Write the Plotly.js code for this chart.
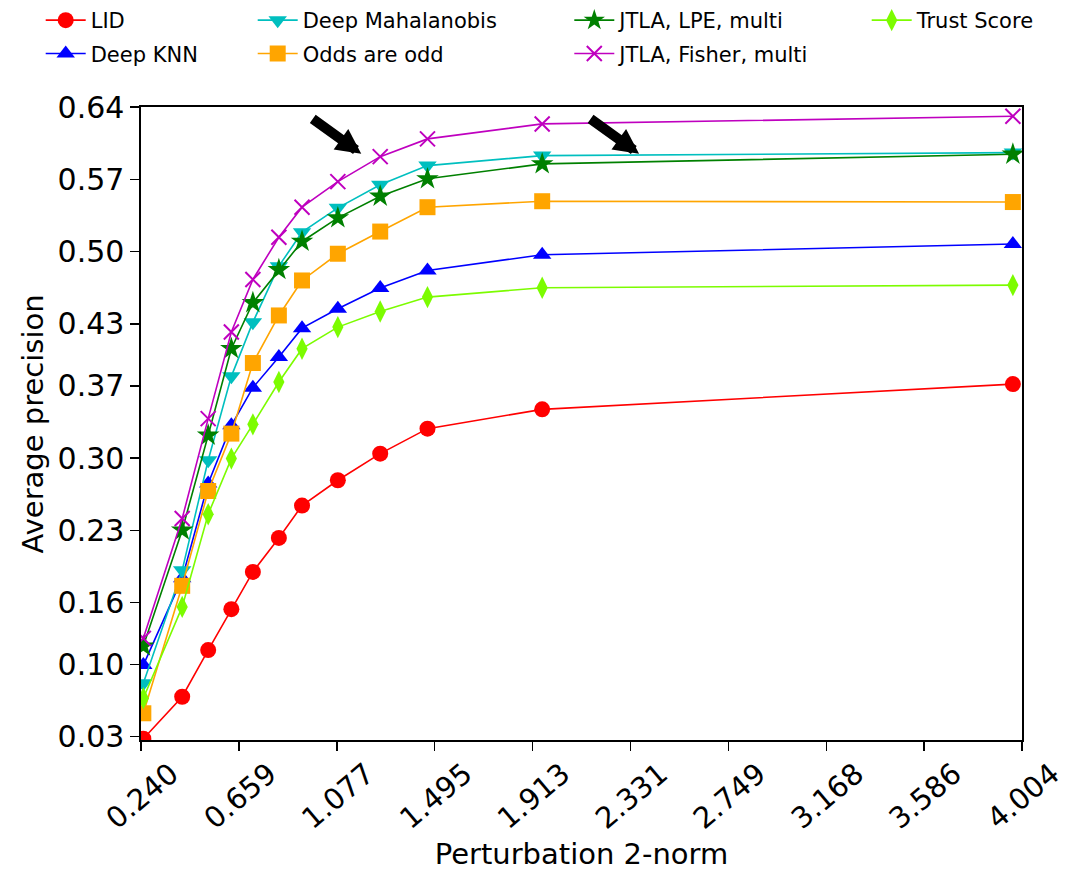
<!DOCTYPE html>
<html>
<head>
<meta charset="utf-8">
<script src="https://cdn.plot.ly/plotly-3.0.1.min.js"></script>
<style>html,body{margin:0;padding:0;background:#fff;}#chart{width:1068px;height:871px;}</style>
</head>
<body>
<div id="chart"></div>
<script>
// ---- data ----
const norms = [0.250, 0.416, 0.527, 0.626, 0.718, 0.829, 0.928, 1.081, 1.262, 1.464, 1.954, 3.965];
const lid      = [0.028, 0.0687, 0.1139, 0.1536, 0.1897, 0.2226, 0.2540, 0.2785, 0.3043, 0.3285, 0.3472, 0.3717];
const deepKnn  = [0.0994, 0.1836, 0.2753, 0.3317, 0.3682, 0.3979, 0.4259, 0.4447, 0.4647, 0.4818, 0.4970, 0.5074];
const deepMaha = [0.0817, 0.1914, 0.2979, 0.3792, 0.4317, 0.4860, 0.5189, 0.5425, 0.5648, 0.5834, 0.5931, 0.5960];
const oddsOdd  = [0.0527, 0.1762, 0.2681, 0.3237, 0.3921, 0.4382, 0.4721, 0.4980, 0.5195, 0.5431, 0.5489, 0.5481];
const jtlaLpe  = [0.1178, 0.2301, 0.3221, 0.4060, 0.4505, 0.4825, 0.5099, 0.5328, 0.5537, 0.5706, 0.5851, 0.5944];
const jtlaFish = [0.1253, 0.2414, 0.3382, 0.4221, 0.4731, 0.5140, 0.5431, 0.5679, 0.5921, 0.6093, 0.6238, 0.6312];
const trust    = [0.0672, 0.1558, 0.2456, 0.2995, 0.3327, 0.3737, 0.4060, 0.4269, 0.4421, 0.4560, 0.4650, 0.4676];

const xTickVals = [0.240, 0.659, 1.077, 1.495, 1.913, 2.331, 2.749, 3.168, 3.586, 4.004];
const xTickText = ['0.240', '0.659', '1.077', '1.495', '1.913', '2.331', '2.749', '3.168', '3.586', '4.004'];
const yTickVals = [0.03, 0.10, 0.16, 0.23, 0.30, 0.37, 0.43, 0.50, 0.57, 0.64];
const yTickText = ['0.03', '0.10', '0.16', '0.23', '0.30', '0.37', '0.43', '0.50', '0.57', '0.64'];

const xTitle = 'Perturbation 2-norm';
const yTitle = 'Average precision';

// arrow tips (data coords)
const arrowX = [1.181, 2.368];
const arrowY = [0.5948, 0.5948];

const FONT = 'DejaVu Sans, Liberation Sans, sans-serif';

function tr(name, y, color, symbol, size, legendId, extra) {
  return {
    type: 'scatter', mode: 'lines+markers', name: name,
    x: norms, y: y,
    line: {color: color, width: 1.6},
    marker: Object.assign({color: color, symbol: symbol, size: size}, extra || {}),
    legend: legendId
  };
}

const data = [
  tr('LID', lid, '#ff0000', 'circle', 16, 'legend'),
  tr('Deep KNN', deepKnn, '#0000ff', 'triangle-up', 16, 'legend2'),
  tr('Deep Mahalanobis', deepMaha, '#00bfbf', 'triangle-down', 16, 'legend3'),
  tr('Odds are odd', oddsOdd, '#ffa500', 'square', 16, 'legend4'),
  tr('JTLA, LPE, multi', jtlaLpe, '#008000', 'star', 17, 'legend5'),
  tr('JTLA, Fisher, multi', jtlaFish, '#bf00bf', 'x-thin-open', 15, 'legend6', {line: {color: '#bf00bf', width: 2}}),
  tr('Trust Score', trust, '#7cfc00', 'diamond-tall', 16, 'legend7')
];

const W = 1068, H = 871;
const IW = 40;
function leg(textX, centerY) {
  return {
    xref: 'container', yref: 'container',
    x: (textX - (IW + 10)) / W, y: 1 - (centerY - 20) / H,
    xanchor: 'left', yanchor: 'top',
    bgcolor: 'rgba(0,0,0,0)', borderwidth: 0,
    itemwidth: IW,
    font: {family: FONT, size: 21, color: '#000'}
  };
}

const annotations = arrowX.map((x, i) => ({
  x: x, y: arrowY[i], xref: 'x', yref: 'y',
  ax: -50, ay: -36, axref: 'pixel', ayref: 'pixel',
  showarrow: true, arrowhead: 2, arrowsize: 0.5, arrowwidth: 10,
  arrowcolor: '#000', text: '', standoff: 0
}));
// y-axis title
annotations.push({
  text: yTitle, xref: 'paper', yref: 'paper', x: -0.1226, y: 0.5,
  xanchor: 'center', yanchor: 'middle', textangle: -90, showarrow: false,
  font: {family: FONT, size: 29, color: '#000'}
});

const layout = {
  width: W, height: H,
  margin: {l: 141, r: 46, t: 107, b: 131, autoexpand: false},
  paper_bgcolor: '#fff', plot_bgcolor: '#fff',
  font: {family: FONT, color: '#000'},
  legend: leg(90.7, 20),
  legend2: leg(90.7, 53.3),
  legend3: leg(302.7, 20),
  legend4: leg(302.7, 53.3),
  legend5: leg(619.3, 20),
  legend6: leg(619.3, 53.3),
  legend7: leg(916.7, 20),
  xaxis: {
    range: [0.240, 4.004], automargin: false,
    tickmode: 'array', tickvals: xTickVals, ticktext: xTickText,
    tickangle: -40,
    ticks: 'outside', ticklen: 9, tickwidth: 1.5, tickcolor: '#000',
    ticklabelshift: 30, ticklabelstandoff: -5,
    tickfont: {family: FONT, size: 29, color: '#000'},
    showline: true, linecolor: '#000', linewidth: 1.6, mirror: true,
    showgrid: false, zeroline: false,
    title: {text: xTitle, font: {family: FONT, size: 29, color: '#000'}}
  },
  yaxis: {
    range: [0.0268, 0.6402], automargin: false,
    tickmode: 'array', tickvals: yTickVals, ticktext: yTickText,
    ticks: 'outside', ticklen: 9, tickwidth: 1.5, tickcolor: '#000',
    tickfont: {family: FONT, size: 30, color: '#000'},
    showline: true, linecolor: '#000', linewidth: 1.6, mirror: true,
    showgrid: false, zeroline: false
  },
  annotations: annotations,
  showlegend: true
};

Plotly.newPlot('chart', data, layout, {displayModeBar: false, staticPlot: true});
</script>
</body>
</html>
